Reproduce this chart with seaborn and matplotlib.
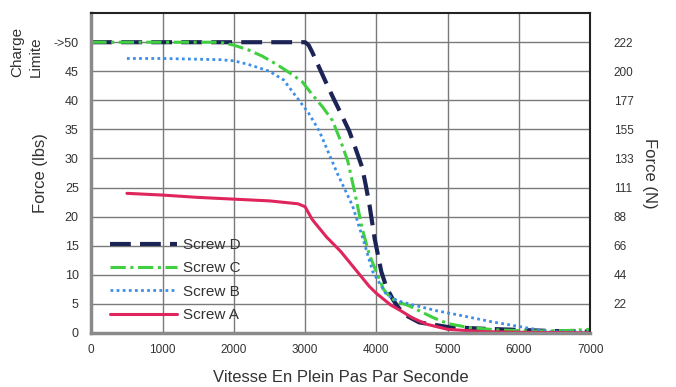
import matplotlib
matplotlib.use("Agg")
import matplotlib.pyplot as plt
import seaborn as sns

# speed (full steps per second) and force (lbs)
speed_d = [0, 1000, 2000, 2900, 3000, 3050, 3100, 3200, 3300, 3400, 3500, 3620, 3700, 3800, 3850,
           3905, 3975, 4070, 4140, 4230, 4300, 4400, 4600, 5000, 5500, 6000, 6500, 7000]
force_d = [50, 50, 50, 50, 50, 49.5, 48.3, 45.6, 42.9, 40.3, 37.8, 34.7, 32, 28.5, 25.5,
           21.9, 16.3, 10.5, 7.9, 5.8, 4.5, 3.1, 1.8, 1.0, 0.7, 0.5, 0.3, 0.2]

speed_c = [0, 1000, 1800, 2000, 2200, 2400, 2600, 2800, 2960, 3100, 3250, 3385, 3500, 3600, 3700,
           3800, 3900, 4000, 4100, 4200, 4300, 4450, 4600, 4800, 5000, 5300, 5700, 6200, 6700, 7000]
force_c = [50, 50, 50, 49.5, 48.7, 47.6, 46.2, 44.6, 43.2, 41, 38.8, 36.5, 33, 29.5, 24,
           18, 13.5, 10.5, 7.5, 6, 5.3, 4.7, 3.8, 2.6, 1.6, 0.9, 0.5, 0.3, 0.4, 0.6]

speed_b = [500, 1000, 1800, 2000, 2200, 2500, 2700, 2915, 3050, 3200, 3450, 3665, 3810, 3950, 4140,
           4300, 4515, 4845, 5140, 5620, 6090, 6420, 7000]
force_b = [47.2, 47.2, 47, 46.8, 46.2, 45, 43.5, 40, 37.8, 34.7, 27.5, 21.9, 16.3, 10.5, 6.6,
           5.5, 4.8, 3.8, 3.1, 1.9, 0.9, 0.2, 0.1]

speed_a = [500, 1000, 1500, 2000, 2500, 2900, 3000, 3100, 3300, 3500, 3700, 3900, 4000, 4200, 4330,
           4500, 4700, 5000, 5500, 6000, 7000]
force_a = [24, 23.7, 23.3, 23, 22.7, 22.2, 21.7, 19.5, 16.5, 14, 11, 8, 6.8, 4.8, 3.9,
           2.6, 1.5, 0.6, 0.2, 0.1, 0]

left_ticks = [0, 5, 10, 15, 20, 25, 30, 35, 40, 45, 50]
left_labels = ["0", "5", "10", "15", "20", "25", "30", "35", "40", "45", "->50"]
newton_ticks = [5, 10, 15, 20, 25, 30, 35, 40, 45, 50]
newton_labels = ["22", "44", "66", "88", "111", "133", "155", "177", "200", "222"]
x_ticks = [0, 1000, 2000, 3000, 4000, 5000, 6000, 7000]

sns.set_style("white")
plt.rcParams['font.family'] = ['Liberation Sans', 'DejaVu Sans']
txt = "#333333"

fig = plt.figure(figsize=(6.76, 3.87), dpi=100)
ax = fig.add_axes([0.135, 0.140, 0.738, 0.826])

ax.grid(True, color="#7a7a7a", linewidth=1.0)
ax.set_axisbelow(True)

sns.lineplot(x=speed_d, y=force_d, ax=ax, color="#1c2456", linewidth=3, label="Screw D")
ax.lines[-1].set_dashes([5, 2.2])
sns.lineplot(x=speed_c, y=force_c, ax=ax, color="#3fcf3f", linewidth=2.2, label="Screw C")
ax.lines[-1].set_dashes([5, 1.5, 1, 1.5])
sns.lineplot(x=speed_b, y=force_b, ax=ax, color="#3b8fe8", linewidth=2, label="Screw B")
ax.lines[-1].set_dashes([1, 1.2])
sns.lineplot(x=speed_a, y=force_a, ax=ax, color="#e0245c", linewidth=2.2, label="Screw A")

ax.set_xlim(0, 7000)
ax.set_ylim(0, 55)
ax.set_xticks(x_ticks)
ax.set_xticklabels([str(t) for t in x_ticks], fontsize=8.5, color=txt)
ax.set_yticks(left_ticks)
ax.set_yticklabels(left_labels, fontsize=9, color=txt)
ax.tick_params(axis="x", length=0, pad=8)
ax.tick_params(axis="y", length=0, pad=9)
ax.set_xlabel("Vitesse En Plein Pas Par Seconde", fontsize=12, color=txt, labelpad=10)
ax.set_ylabel("Force (lbs)", fontsize=12, color=txt, labelpad=4)

for side in ["left", "bottom"]:
    ax.spines[side].set_color("#8a8a8a")
    ax.spines[side].set_linewidth(2.5)
for side in ["top", "right"]:
    ax.spines[side].set_color("#222222")
    ax.spines[side].set_linewidth(1.5)

ax2 = ax.twinx()
ax2.set_ylim(0, 55)
ax2.set_yticks(newton_ticks)
ax2.set_yticklabels(newton_labels, fontsize=8.5, color=txt)
ax2.tick_params(length=0, pad=17)
ax2.set_ylabel("Force (N)", fontsize=12, color=txt, rotation=270, labelpad=17)
for side in ax2.spines:
    ax2.spines[side].set_visible(False)

leg = ax.legend(loc="lower left", bbox_to_anchor=(0.01, -0.01), frameon=False,
                fontsize=11, handlelength=4.4, labelspacing=0.62, handletextpad=0.4)
for t in leg.get_texts():
    t.set_color(txt)

# vertical "Charge Limite" note in the top-left corner
fig.text(0.015, 0.80, "Charge", rotation=90, fontsize=11, color=txt, ha="left", va="bottom")
fig.text(0.042, 0.80, "Limite", rotation=90, fontsize=11, color=txt, ha="left", va="bottom")

fig.savefig("out.png", dpi=100)
